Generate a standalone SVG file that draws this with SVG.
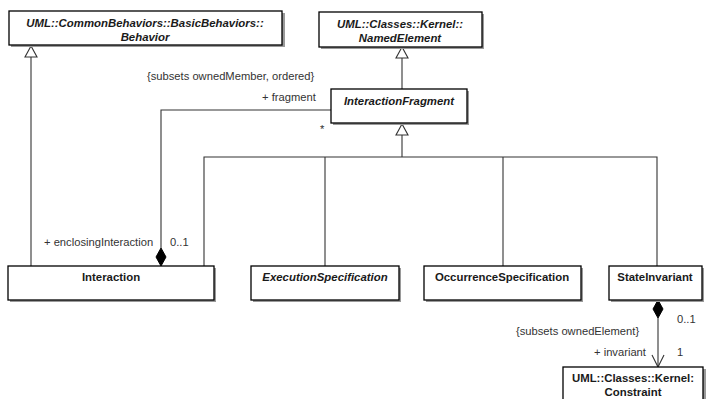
<svg xmlns="http://www.w3.org/2000/svg" width="706" height="399" viewBox="0 0 706 399">
  <style>
    .box { fill: #ffffff; stroke: #000000; stroke-width: 1.3; }
    .shadow { fill: #9a9a9a; }
    .title { font-family: "Liberation Sans", Arial, sans-serif; font-size: 11.4px; font-weight: bold; fill: #1a1a1a; text-anchor: middle; }
    .abstract { font-style: italic; }
    .lbl { font-family: "Liberation Sans", Arial, sans-serif; font-size: 11.2px; fill: #333333; }
    .line { fill: none; stroke: #333333; stroke-width: 1.1; }
    .tri { fill: #ffffff; stroke: #333333; stroke-width: 1.1; }
    .dia { fill: #000000; stroke: #000000; stroke-width: 1; }
  </style>
  <defs>
    <filter id="soft" x="-10%" y="-10%" width="130%" height="140%">
      <feGaussianBlur stdDeviation="0.6"/>
    </filter>
  </defs>
  <rect width="706" height="399" fill="#ffffff"/>

  <!-- connectors -->
  <g id="connectors">
    <!-- Interaction -> Behavior -->
    <line class="line" x1="31" y1="57" x2="31" y2="266"/>
    <polygon class="tri" points="31,46 25,57 37,57"/>
    <!-- InteractionFragment -> NamedElement -->
    <line class="line" x1="402" y1="58" x2="402" y2="89"/>
    <polygon class="tri" points="402,47 396,58 408,58"/>
    <!-- generalization tree into InteractionFragment -->
    <polygon class="tri" points="402,124 396,135 408,135"/>
    <line class="line" x1="402" y1="135" x2="402" y2="157"/>
    <polyline class="line" points="204,266 204,157 657,157 657,266"/>
    <line class="line" x1="325" y1="157" x2="325" y2="266"/>
    <line class="line" x1="503" y1="157" x2="503" y2="266"/>
    <!-- fragment / enclosingInteraction composition -->
    <polyline class="line" points="331,110 161,110 161,248"/>
    <polygon class="dia" points="161,248 166,257 161,266 156,257"/>
    <!-- invariant composition -->
    <polygon class="dia" points="658,300 663,309 658,318 653,309"/>
    <line class="line" x1="658" y1="318" x2="658" y2="367"/>
    <polyline class="line" points="652,355 658,367 664,355"/>

    <text class="lbl" x="147" y="80">{subsets ownedMember, ordered}</text>
    <text class="lbl" x="262" y="101">+ fragment</text>
    <text class="lbl" x="320" y="133">*</text>
    <text class="lbl" x="44" y="246">+ enclosingInteraction</text>
    <text class="lbl" x="170" y="246">0..1</text>
    <text class="lbl" x="516" y="335">{subsets ownedElement}</text>
    <text class="lbl" x="677" y="323">0..1</text>
    <text class="lbl" x="594" y="356">+ invariant</text>
    <text class="lbl" x="677" y="356">1</text>
  </g>

  <g id="behavior">
    <rect class="shadow" x="11" y="13" width="274" height="34" filter="url(#soft)"/>
    <rect class="box" x="9" y="11" width="273" height="34"/>
    <text class="title abstract" x="145" y="27">UML::CommonBehaviors::BasicBehaviors::</text>
    <text class="title abstract" x="145" y="41">Behavior</text>
  </g>

  <g id="named-element">
    <rect class="shadow" x="321" y="14" width="163" height="35" filter="url(#soft)"/>
    <rect class="box" x="319" y="12" width="163" height="35"/>
    <text class="title abstract" x="400" y="28">UML::Classes::Kernel::</text>
    <text class="title abstract" x="400" y="42">NamedElement</text>
  </g>

  <g id="interaction-fragment">
    <rect class="shadow" x="333" y="91" width="136" height="34" filter="url(#soft)"/>
    <rect class="box" x="331" y="89" width="136" height="34"/>
    <text class="title abstract" x="399" y="105">InteractionFragment</text>
  </g>

  <g id="interaction">
    <rect class="shadow" x="10" y="268" width="206" height="34" filter="url(#soft)"/>
    <rect class="box" x="8" y="266" width="206" height="34"/>
    <text class="title" x="111" y="281">Interaction</text>
  </g>

  <g id="execution-specification">
    <rect class="shadow" x="253" y="268" width="148" height="34" filter="url(#soft)"/>
    <rect class="box" x="251" y="266" width="148" height="34"/>
    <text class="title abstract" x="325" y="281">ExecutionSpecification</text>
  </g>

  <g id="occurrence-specification">
    <rect class="shadow" x="426" y="268" width="157" height="34" filter="url(#soft)"/>
    <rect class="box" x="424" y="266" width="157" height="34"/>
    <text class="title" x="502" y="281">OccurrenceSpecification</text>
  </g>

  <g id="state-invariant">
    <rect class="shadow" x="611" y="268" width="93" height="34" filter="url(#soft)"/>
    <rect class="box" x="609" y="266" width="93" height="34"/>
    <text class="title" x="655" y="281">StateInvariant</text>
  </g>

  <g id="constraint">
    <rect class="shadow" x="565" y="369" width="141" height="40" filter="url(#soft)"/>
    <rect class="box" x="563" y="367" width="140" height="40"/>
    <text class="title" x="633" y="382">UML::Classes::Kernel:</text>
    <text class="title" x="633" y="396">Constraint</text>
  </g>
</svg>
